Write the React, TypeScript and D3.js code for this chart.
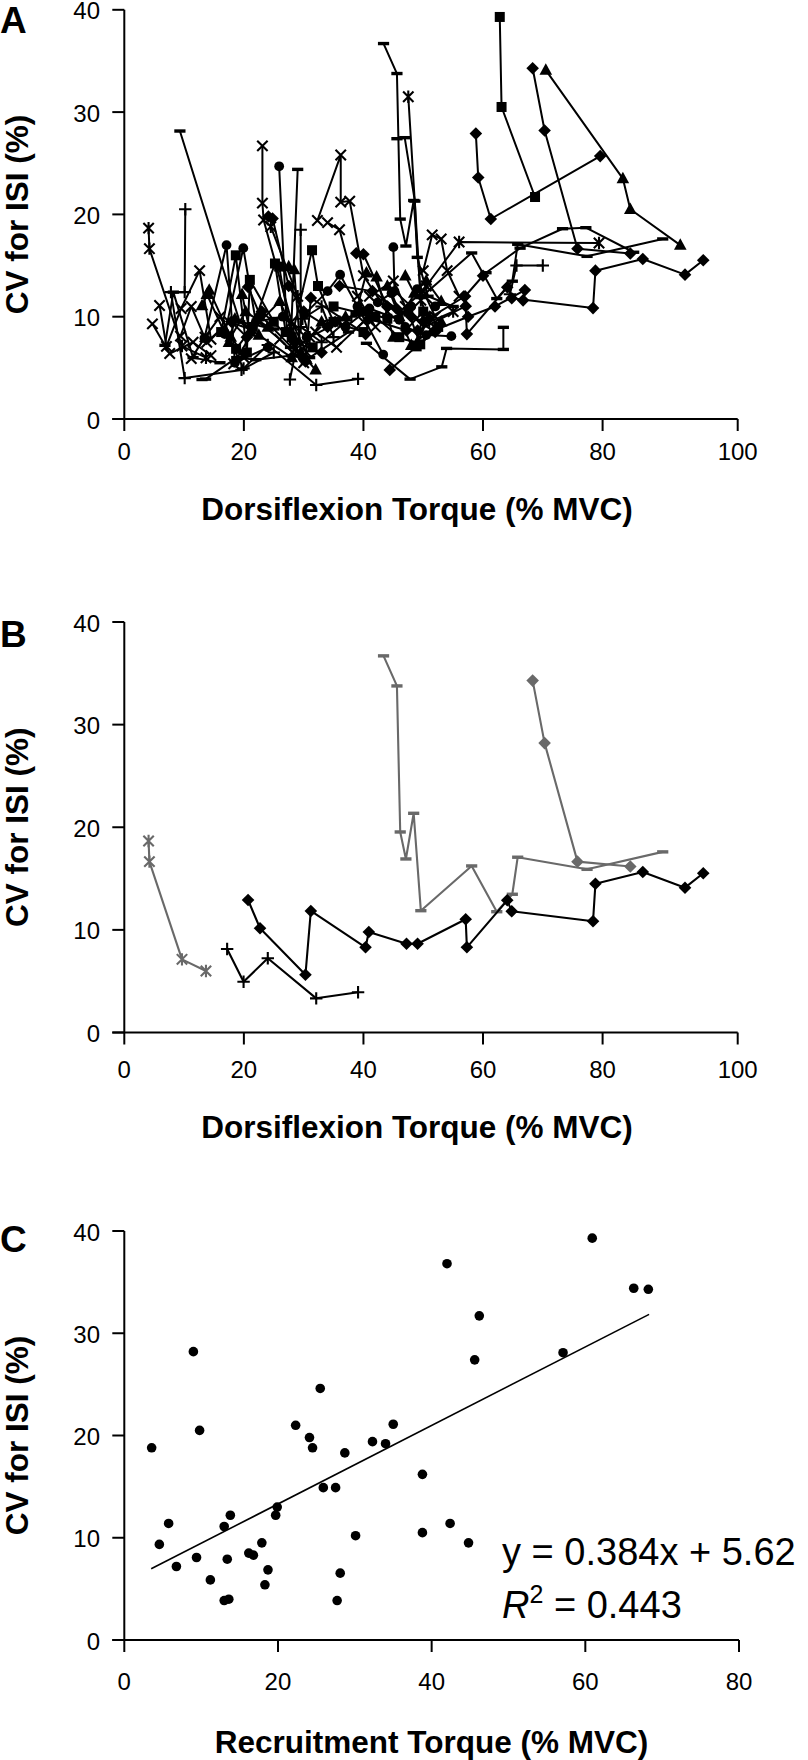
import React from 'react';
import * as d3 from 'd3';

type Pt = [number, number];
type Marker = 'diamond' | 'square' | 'triangle' | 'circle' | 'x' | 'star' | 'plus' | 'dash';
interface Series { m: Marker; gray?: boolean; pts: Pt[] }

const xTicksAB = [0, 20, 40, 60, 80, 100];
const xTicksC = [0, 20, 40, 60, 80];
const yTicks = [0, 10, 20, 30, 40];

// ---- Panel B series (highlighted motor units) ----
const bGrayStar: Pt[] = [[4.06, 18.66], [4.2, 16.65], [9.65, 7.13], [13.66, 5.99]];
const bBlackPlus: Pt[] = [[17.2, 8.14], [19.95, 4.95], [24.0, 7.23], [32.1, 3.33], [39.1, 3.92]];
const bBlackDiamond: Pt[] = [[20.7, 12.91], [22.7, 10.16], [30.3, 5.63], [31.2, 11.84], [40.35, 8.3], [40.9, 9.8], [47.2, 8.65], [49.05, 8.65], [57.1, 11.03], [57.3, 8.3], [64.05, 12.88], [64.8, 11.81], [78.4, 10.84], [78.8, 14.5], [85.95, 15.64], [92.2, 14.11], [94.9, 15.52]];
const bGrayDash: Pt[] = [[43.36, 36.7], [45.6, 33.77], [46.15, 19.54], [47.1, 16.91], [48.4, 21.36], [49.6, 11.87], [58.1, 16.23], [62.3, 11.77], [64.9, 13.47], [65.8, 17.08], [77.4, 15.9], [88.9, 17.6]];
const bGrayDiamond: Pt[] = [[68.3, 34.29], [70.3, 28.2], [75.8, 16.65], [84.1, 16.18]];

const seriesB: Series[] = [
  { m: 'star', gray: true, pts: bGrayStar },
  { m: 'dash', gray: true, pts: bGrayDash },
  { m: 'diamond', gray: true, pts: bGrayDiamond },
  { m: 'plus', pts: bBlackPlus },
  { m: 'diamond', pts: bBlackDiamond },
];

// ---- Panel A: all motor units ----
const seriesA: Series[] = [
  { m: 'star', pts: bGrayStar },
  { m: 'plus', pts: bBlackPlus },
  { m: 'diamond', pts: bBlackDiamond },
  { m: 'dash', pts: bGrayDash },
  { m: 'diamond', pts: bGrayDiamond },
  { m: 'square', pts: [[62.8, 39.3], [63.1, 30.5], [68.7, 21.7]] },
  { m: 'diamond', pts: [[58.8, 27.9], [59.2, 23.6], [61.3, 19.55], [79.6, 25.7]] },
  { m: 'triangle', pts: [[70.5, 34.1], [83, 23.5], [84.1, 20.5], [91.5, 17.0]] },
  { m: 'star', pts: [[50.5, 13], [56, 17.3], [79.4, 17.2]] },
  { m: 'plus', pts: [[64.5, 12.2], [65.6, 15], [70, 15]] },
  { m: 'dash', pts: [[40.5, 7.4], [47.8, 3.9], [53.1, 5.1], [53.9, 6.9], [63.4, 6.8], [63.4, 8.96]] },
  { m: 'diamond', pts: [[44.4, 4.8], [52, 8.7], [57.5, 10], [62, 11], [67, 12.6], [66.7, 11.6]] },
  { m: 'dash', pts: [[60.5, 14.3], [66.2, 16.7], [73.3, 18.6], [77.2, 18.7], [84.6, 16.3]] },
  { m: 'dash', pts: [[45.6, 27.4], [46.9, 27.5], [48.6, 21.3], [49, 15.8], [50.8, 12], [55, 11]] },
  { m: 'star', pts: [[47.5, 31.5], [49.6, 11.6], [51, 9.5], [55, 10.5]] },
  { m: 'circle', pts: [[45, 16.8], [45.2, 12.5], [48, 11]] },
  { m: 'x', pts: [[4.7, 9.3], [7.6, 6.4], [11.5, 7.5], [14.5, 6.2]] },
  { m: 'x', pts: [[5.9, 11.1], [7.05, 7.1], [9.5, 10.8], [12.6, 14.5], [14.5, 7.8]] },
  { m: 'dash', pts: [[6.8, 7.2], [8.2, 12.4], [11.5, 6.0], [16, 5.5]] },
  { m: 'dash', pts: [[9.3, 28.15], [19.3, 9.5], [25, 8.8]] },
  { m: 'x', pts: [[9.4, 8.1], [11.2, 11], [13.8, 7.5], [17.5, 9.5], [21, 8.8]] },
  { m: 'plus', pts: [[10.2, 20.5], [10.1, 12.4], [7.8, 12.4], [10.1, 4.0], [19.6, 4.8], [25, 6.5]] },
  { m: 'x', pts: [[11.2, 5.9], [13.5, 8], [16, 10], [20, 6]] },
  { m: 'triangle', pts: [[13, 11.1], [14.2, 12.6], [17.8, 8], [20.3, 10.5], [24, 9]] },
  { m: 'dash', pts: [[13, 3.86], [13.6, 3.9], [18.8, 6], [22, 5.8], [28, 6.2]] },
  { m: 'circle', pts: [[13.4, 7.9], [17.1, 17], [18.5, 5.5], [24, 7]] },
  { m: 'triangle', pts: [[13.8, 12.2], [17.5, 7.5], [18.5, 9.8], [22.5, 8.2], [28, 6]] },
  { m: 'square', pts: [[16.2, 8.5], [18.65, 16.0], [20.5, 6.5], [21, 13.6], [25, 9.5]] },
  { m: 'circle', pts: [[16.8, 8.3], [19.9, 16.7], [22, 9.5], [26.5, 10], [30.5, 8]] },
  { m: 'diamond', pts: [[17.9, 9.5], [20.5, 8], [23, 10.5], [28.5, 7.5], [33, 6.5]] },
  { m: 'x', pts: [[18.3, 5.4], [22.5, 9.5], [26, 7.8], [30, 5.5]] },
  { m: 'square', pts: [[18.7, 6.86], [21.5, 9], [25.2, 15.2], [27, 8.5], [31.5, 7]] },
  { m: 'triangle', pts: [[19.7, 12.2], [21, 8.5], [26, 11.5], [30.5, 5.8], [32, 4.8]] },
  { m: 'x', pts: [[23.1, 26.7], [23.1, 21.1], [23.3, 19.45], [28, 9.5], [30.5, 6.5]] },
  { m: 'diamond', pts: [[24.1, 19.8], [24.8, 19.6], [27.5, 13], [30, 10.5], [34, 9]] },
  { m: 'star', pts: [[24.5, 18.8], [29, 12], [31, 8], [36, 9.5]] },
  { m: 'circle', pts: [[25.9, 24.7], [27.2, 8.5], [29.8, 6]] },
  { m: 'square', pts: [[25.9, 14.9], [28, 8], [31.4, 16.5], [32.4, 13.0], [35, 9.5], [40, 8.5]] },
  { m: 'triangle', pts: [[27.5, 14.9], [28.4, 14.6], [29.5, 6.5], [33, 9.5], [37, 10]] },
  { m: 'plus', pts: [[27.7, 3.86], [29.8, 9.8], [33, 11], [35, 8]] },
  { m: 'x', pts: [[28.1, 6.54], [32, 8.5], [35.5, 7], [40, 9.5]] },
  { m: 'dash', pts: [[29.0, 24.4], [27.8, 7], [31, 6], [37.5, 8.5]] },
  { m: 'plus', pts: [[29.5, 18.5], [29.5, 9], [33, 7.5], [38, 10]] },
  { m: 'circle', pts: [[30.1, 10.2], [34, 12.5], [36.1, 14.1], [39, 11], [43.3, 6.3]] },
  { m: 'x', pts: [[32.3, 19.4], [36.2, 25.8], [36.2, 21.2], [37.7, 21.3], [40, 14], [44, 10.5]] },
  { m: 'x', pts: [[34.0, 19.2], [36, 18.5], [39, 12], [42, 9]] },
  { m: 'diamond', pts: [[38.8, 16.2], [40, 16.1], [44, 11], [48, 10], [52, 8.5]] },
  { m: 'triangle', pts: [[38.8, 10.5], [40.5, 14.3], [42.2, 13.9], [45, 8], [49, 7.5], [51, 10]] },
  { m: 'circle', pts: [[42.4, 11.4], [44.7, 12.3], [47, 9], [50.5, 8.2], [54.7, 8.1]] },
  { m: 'square', pts: [[35, 11], [42, 10], [46, 8], [50, 10.5], [48.9, 7.1]] },
  { m: 'triangle', pts: [[44, 13], [46, 10], [48, 7.2], [53, 9.5]] },
  { m: 'x', pts: [[50, 14.5], [51.5, 18], [53, 17.6], [54, 14.5], [56, 12]] },
  { m: 'square', pts: [[40, 10.5], [44, 9.8], [47.5, 10.5], [49.5, 7.3], [52.5, 9]] },
  { m: 'x', pts: [[41, 12], [45, 13.5], [47, 11], [50, 12.5], [52, 10]] },
  { m: 'circle', pts: [[37, 9], [41, 10.8], [46, 9.7], [49, 12.7], [52, 11]] },
  { m: 'triangle', pts: [[47, 14], [48.5, 12.3], [50.5, 13.5], [53, 11.5]] },
  { m: 'diamond', pts: [[36, 13], [41.5, 12.5], [45.5, 10.8], [50, 9.5], [57, 12], [60, 14]] },
];

// ---- Panel C: recruitment torque vs CV ----
const recruitTorque = [3.56, 4.56, 5.77, 6.78, 8.99, 9.4, 9.8, 11.2, 13.0, 13.0, 13.4, 13.6, 13.8, 16.2, 16.8, 17.9, 18.3, 18.7, 19.7, 19.9, 22.3, 24.1, 24.5, 25.5, 25.9, 27.5, 27.7, 28.1, 28.7, 30.1, 32.3, 34.0, 35.0, 38.8, 38.8, 42.4, 44.8, 45.6, 46.2, 57.1, 60.9, 42.0, 66.3, 68.2];
const recruitCV = [18.8, 9.35, 11.4, 7.19, 28.2, 8.07, 20.5, 5.88, 11.1, 3.86, 7.9, 3.99, 12.2, 8.5, 8.3, 9.5, 5.4, 6.86, 12.2, 13.0, 21.0, 19.8, 18.8, 24.6, 14.9, 14.9, 3.86, 6.54, 18.3, 10.2, 19.4, 19.2, 21.1, 16.2, 10.5, 11.4, 9.5, 27.4, 31.7, 28.1, 39.3, 36.8, 34.4, 34.3];
const fitSlope = 0.384;
const fitIntercept = 5.62;
const fitR2 = 0.443;
const fitRange = [3.5, 68.3];

const FONT = 'Liberation Sans, Arial, Helvetica, sans-serif';
const GRAY = '#696969';

const xScaleAB = d3.scaleLinear().domain([0, 80, 100]).range([124.3, 602.6, 737.7]);
const yScaleA = d3.scaleLinear().domain([0, 40]).range([419, 9.8]);
const yScaleB = d3.scaleLinear().domain([0, 40]).range([1032.5, 622]);
const xScaleC = d3.scaleLinear().domain([0, 80]).range([124.3, 739]);
const yScaleC = d3.scaleLinear().domain([0, 40]).range([1640, 1231]);

function Mk({ m, x, y, c }: { m: Marker; x: number; y: number; c: string }) {
  switch (m) {
    case 'diamond':
      return <polygon points={`${x},${y - 6.3} ${x + 6.3},${y} ${x},${y + 6.3} ${x - 6.3},${y}`} fill={c} />;
    case 'square':
      return <rect x={x - 5} y={y - 5} width={10} height={10} fill={c} />;
    case 'triangle':
      return <polygon points={`${x},${y - 6.8} ${x + 6.3},${y + 4.7} ${x - 6.3},${y + 4.7}`} fill={c} />;
    case 'circle':
      return <circle cx={x} cy={y} r={4.9} fill={c} />;
    case 'x':
      return <path d={`M${x - 5.2},${y - 5.2}L${x + 5.2},${y + 5.2}M${x - 5.2},${y + 5.2}L${x + 5.2},${y - 5.2}`} stroke={c} strokeWidth={2.1} />;
    case 'star':
      return <path d={`M${x - 5.2},${y - 5.2}L${x + 5.2},${y + 5.2}M${x - 5.2},${y + 5.2}L${x + 5.2},${y - 5.2}M${x},${y - 6.2}L${x},${y + 6.2}`} stroke={c} strokeWidth={2.1} />;
    case 'plus':
      return <path d={`M${x - 6.2},${y}L${x + 6.2},${y}M${x},${y - 6.2}L${x},${y + 6.2}`} stroke={c} strokeWidth={2.1} />;
    case 'dash':
      return <rect x={x - 5.6} y={y - 1.7} width={11.2} height={3.4} fill={c} />;
  }
  return null;
}

interface AxesProps {
  xs: d3.ScaleLinear<number, number>;
  ys: d3.ScaleLinear<number, number>;
  xTicks: number[];
  xLabelY: number;
  title: string;
  titleX: number;
  titleY: number;
  label: string;
  labelY: number;
}

function Axes({ xs, ys, xTicks, xLabelY, title, titleX, titleY, label, labelY }: AxesProps) {
  const x0 = xs(0);
  const y0 = ys(0);
  const xMax = xs(xTicks[xTicks.length - 1]);
  const yTop = ys(40);
  const yMid = (y0 + yTop) / 2;
  return (
    <g fontFamily={FONT}>
      <line x1={x0} x2={x0} y1={yTop} y2={y0} stroke="#000" strokeWidth={2} />
      <line x1={x0 - 12} x2={xMax} y1={y0} y2={y0} stroke="#000" strokeWidth={2} />
      {yTicks.map((t) => (
        <g key={'y' + t}>
          <line x1={x0 - 12} x2={x0} y1={ys(t)} y2={ys(t)} stroke="#000" strokeWidth={2} />
          <text x={100} y={ys(t) + 9.5} textAnchor="end" fontSize={24} fill="#000">{t}</text>
        </g>
      ))}
      {xTicks.map((t) => (
        <g key={'x' + t}>
          <line x1={xs(t)} x2={xs(t)} y1={y0} y2={y0 + 12} stroke="#000" strokeWidth={2} />
          <text x={xs(t)} y={xLabelY} textAnchor="middle" fontSize={24} fill="#000">{t}</text>
        </g>
      ))}
      <text x={titleX} y={titleY} textAnchor="middle" fontSize={31.5} fontWeight="bold" fill="#000">{title}</text>
      <text transform={`translate(28,${yMid}) rotate(-90)`} textAnchor="middle" fontSize={31.5} fontWeight="bold" fill="#000">CV for ISI (%)</text>
      <text x={0} y={labelY} fontSize={37} fontWeight="bold" fill="#000">{label}</text>
    </g>
  );
}

function SeriesPlot({ series, xs, ys, lw }: { series: Series[]; xs: d3.ScaleLinear<number, number>; ys: d3.ScaleLinear<number, number>; lw: number }) {
  const line = d3.line<Pt>().x((d) => xs(d[0])).y((d) => ys(d[1]));
  return (
    <g>
      {series.map((s, i) => {
        const c = s.gray ? GRAY : '#000';
        return (
          <g key={i}>
            <path d={line(s.pts) || ''} fill="none" stroke={c} strokeWidth={lw} strokeLinejoin="round" />
            {s.pts.map((p, j) => (
              <Mk key={j} m={s.m} x={xs(p[0])} y={ys(p[1])} c={c} />
            ))}
          </g>
        );
      })}
    </g>
  );
}

export default function App() {
  const fitPts: Pt[] = fitRange.map((x) => [x, fitSlope * x + fitIntercept]);
  const fitLine = d3.line<Pt>().x((d) => xScaleC(d[0])).y((d) => yScaleC(d[1]));
  return (
    <div style={{ position: 'absolute', left: 0, top: 0, width: 808, height: 1760, background: '#fff' }}>
      <svg width={808} height={1760} viewBox="0 0 808 1760" style={{ display: 'block' }}>
        <rect width={808} height={1760} fill="#fff" />
        {/* Panel A */}
        <Axes xs={xScaleAB} ys={yScaleA} xTicks={xTicksAB} xLabelY={460} title="Dorsiflexion Torque (% MVC)" titleX={417} titleY={520} label="A" labelY={33} />
        <SeriesPlot series={seriesA} xs={xScaleAB} ys={yScaleA} lw={2} />
        {/* Panel B */}
        <Axes xs={xScaleAB} ys={yScaleB} xTicks={xTicksAB} xLabelY={1078} title="Dorsiflexion Torque (% MVC)" titleX={417} titleY={1138} label="B" labelY={647} />
        <SeriesPlot series={seriesB} xs={xScaleAB} ys={yScaleB} lw={2.1} />
        {/* Panel C */}
        <Axes xs={xScaleC} ys={yScaleC} xTicks={xTicksC} xLabelY={1690} title="Recruitment Torque (% MVC)" titleX={431.5} titleY={1753} label="C" labelY={1252} />
        <path d={fitLine(fitPts) || ''} stroke="#000" strokeWidth={1.6} fill="none" />
        {recruitTorque.map((x, i) => (
          <circle key={i} cx={xScaleC(x)} cy={yScaleC(recruitCV[i])} r={4.8} fill="#000" />
        ))}
        <g fontFamily={FONT} fill="#000">
          <text x={502} y={1565} fontSize={38}>{`y = ${fitSlope}x + ${fitIntercept}`}</text>
          <text x={502} y={1618} fontSize={38}>
            <tspan fontStyle="italic">R</tspan>
            <tspan fontSize={25} dy={-15}>2</tspan>
            <tspan dy={15}>{` = ${fitR2}`}</tspan>
          </text>
        </g>
      </svg>
    </div>
  );
}
